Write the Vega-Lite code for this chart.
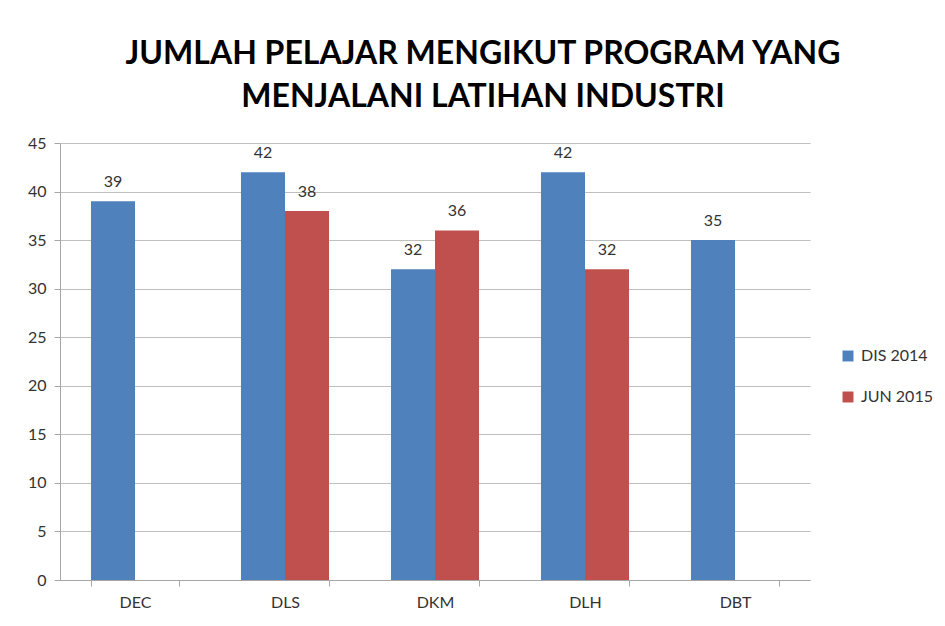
{
  "$schema": "https://vega.github.io/schema/vega-lite/v6.json",
  "autosize": {"type": "none"},
  "width": 750,
  "height": 437,
  "padding": {"left": 60, "top": 143, "right": 135, "bottom": 46},
  "background": "white",
  "config": {
    "font": "Lato",
    "view": {"stroke": null}
  },
  "title": {
    "text": ["JUMLAH PELAJAR MENGIKUT PROGRAM YANG", "MENJALANI LATIHAN INDUSTRI"],
    "font": "Lato",
    "fontSize": 32,
    "fontWeight": "bold",
    "color": "black",
    "anchor": "middle",
    "frame": "group",
    "dx": 48,
    "lineHeight": 43,
    "offset": 21
  },
  "data": {
    "values": [
      {"program": "DEC", "series": "DIS 2014", "value": 39},
      {"program": "DLS", "series": "DIS 2014", "value": 42},
      {"program": "DLS", "series": "JUN 2015", "value": 38},
      {"program": "DKM", "series": "DIS 2014", "value": 32},
      {"program": "DKM", "series": "JUN 2015", "value": 36},
      {"program": "DLH", "series": "DIS 2014", "value": 42},
      {"program": "DLH", "series": "JUN 2015", "value": 32},
      {"program": "DBT", "series": "DIS 2014", "value": 35}
    ]
  },
  "encoding": {
    "x": {
      "field": "program",
      "type": "nominal",
      "sort": ["DEC", "DLS", "DKM", "DLH", "DBT"],
      "scale": {"paddingInner": 0.413, "paddingOuter": 0.2065},
      "axis": {
        "title": null,
        "labelAngle": 0,
        "labelFontSize": 16,
        "labelColor": "#333333",
        "labelPadding": 8,
        "domainColor": "#A6A6A6",
        "tickColor": "#A6A6A6",
        "tickSize": 6,
        "tickBand": "extent",
        "grid": false
      }
    },
    "xOffset": {"field": "series", "type": "nominal", "sort": ["DIS 2014", "JUN 2015"]},
    "y": {
      "field": "value",
      "type": "quantitative",
      "scale": {"domain": [0, 45], "nice": false},
      "axis": {
        "title": null,
        "values": [0, 5, 10, 15, 20, 25, 30, 35, 40, 45],
        "labelFontSize": 16,
        "labelColor": "#333333",
        "labelPadding": 8,
        "domainColor": "#A6A6A6",
        "tickColor": "#A6A6A6",
        "tickSize": 6,
        "gridColor": "#BFBFBF",
        "gridWidth": 1
      }
    }
  },
  "layer": [
    {
      "mark": {"type": "bar"},
      "encoding": {
        "color": {
          "field": "series",
          "type": "nominal",
          "scale": {"domain": ["DIS 2014", "JUN 2015"], "range": ["#4F81BD", "#C0504D"]},
          "legend": {
            "title": null,
            "orient": "none",
            "legendX": 780,
            "legendY": 205,
            "symbolType": "square",
            "symbolSize": 120,
            "symbolStrokeWidth": 0,
            "labelFontSize": 16,
            "labelColor": "#333333",
            "rowPadding": 25,
            "labelOffset": 5
          }
        }
      }
    },
    {
      "mark": {"type": "text", "baseline": "bottom", "dy": -11, "fontSize": 16, "color": "#333333"},
      "encoding": {
        "text": {"field": "value", "type": "quantitative"}
      }
    }
  ]
}
